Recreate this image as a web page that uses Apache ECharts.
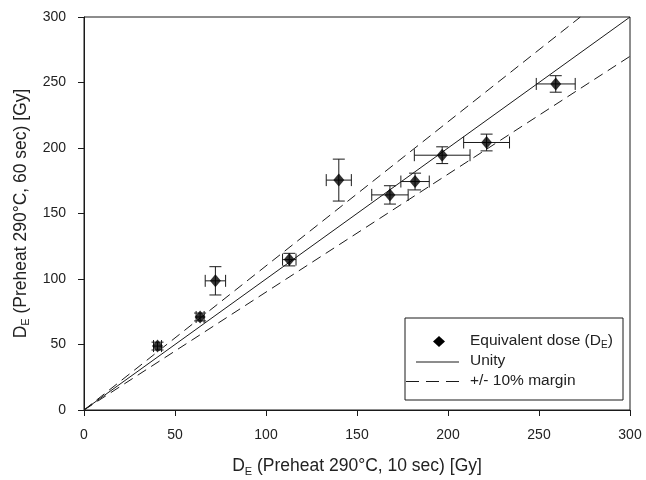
<!DOCTYPE html>
<html>
<head>
<meta charset="utf-8">
<script src="https://cdn.jsdelivr.net/npm/echarts@6/dist/echarts.min.js"></script>
<style>
  html, body { margin: 0; padding: 0; background: #fff; }
  #chart { width: 646px; height: 480px; }
</style>
</head>
<body>
<div id="chart"></div>
<script>
// measured values (Gy)
const doseX = [40.4, 63.8, 72.2, 112.8, 140.0, 168.1, 181.9, 196.8, 221.2, 259.2];
const doseY = [48.8, 71.0, 98.6, 114.8, 175.5, 164.2, 174.4, 194.5, 204.2, 248.9];
const errX = [2.2, 2.2, 5.6, 3.7, 6.9, 10.0, 7.8, 15.3, 12.6, 10.7];
const errY = [3.0, 3.0, 10.8, 4.8, 16.0, 7.0, 6.4, 6.4, 6.4, 6.3];

// reference lines
const unityLine = [[0, 0], [300, 300]];
const upperLine = [[0, 0], [272.73, 300]];
const lowerLine = [[0, 0], [300, 270]];

const chart = echarts.init(document.getElementById('chart'));

const points = doseX.map((x, i) => [x, doseY[i]]);
const errRows = doseX.map((x, i) => [x, doseY[i], errX[i], errY[i]]);

const font = 'Liberation Sans, Arial, sans-serif';
const ink = '#1a1a1a';
const cap = 6;

// error bars drawn through the axis scales
function renderErr(params, api) {
  const x = api.value(0), y = api.value(1), ex = api.value(2), ey = api.value(3);
  const c = api.coord([x, y]);
  const l = api.coord([x - ex, y]);
  const r = api.coord([x + ex, y]);
  const t = api.coord([x, y + ey]);
  const b = api.coord([x, y - ey]);
  const st = { stroke: ink, lineWidth: 1 };
  const seg = (x1, y1, x2, y2) => ({ type: 'line', shape: { x1, y1, x2, y2 }, style: st });
  return {
    type: 'group',
    children: [
      seg(l[0], c[1], r[0], c[1]),
      seg(l[0], c[1] - cap, l[0], c[1] + cap),
      seg(r[0], c[1] - cap, r[0], c[1] + cap),
      seg(c[0], t[1], c[0], b[1]),
      seg(c[0] - cap, t[1], c[0] + cap, t[1]),
      seg(c[0] - cap, b[1], c[0] + cap, b[1])
    ]
  };
}

const axisCommon = {
  type: 'value',
  min: 0,
  max: 300,
  interval: 50,
  splitLine: { show: false },
  axisLine: { show: true, lineStyle: { color: ink, width: 1 } },
  axisTick: { show: true, inside: false, length: 6, lineStyle: { color: ink } },
  axisLabel: { color: '#222', fontSize: 14, fontFamily: font, margin: 18 },
  nameLocation: 'middle',
  nameTextStyle: {
    rich: {
      a: { fontSize: 17.5, fontFamily: font, color: '#222' },
      s: { fontSize: 11, fontFamily: font, color: '#222', padding: [10, 0, 0, 0] }
    }
  }
};

const legendRich = {
  a: { fontSize: 15.5, fontFamily: font, fill: '#222' },
  s: { fontSize: 10, fontFamily: font, fill: '#222', padding: [8, 0, 0, 0] }
};

chart.setOption({
  animation: false,
  grid: {
    left: 84, right: 16, top: 17, bottom: 70,
    containLabel: false, outerBoundsMode: 'none',
    show: true, borderColor: ink, borderWidth: 1
  },
  xAxis: Object.assign({}, axisCommon, {
    name: '{a|D}{s|E}{a| (Preheat 290°C, 10 sec) [Gy]}',
    nameGap: 46
  }),
  yAxis: Object.assign({}, axisCommon, {
    name: '{a|D}{s|E}{a| (Preheat 290°C, 60 sec) [Gy]}',
    nameGap: 47
  }),
  series: [
    {
      type: 'line', data: unityLine, symbol: 'none', silent: true,
      lineStyle: { color: ink, width: 1 }
    },
    {
      type: 'line', data: upperLine, symbol: 'none', silent: true,
      lineStyle: { color: ink, width: 1, type: [10, 6] }
    },
    {
      type: 'line', data: lowerLine, symbol: 'none', silent: true,
      lineStyle: { color: ink, width: 1, type: [10, 6] }
    },
    {
      type: 'custom', data: errRows, renderItem: renderErr,
      encode: { x: 0, y: 1 }, z: 3
    },
    {
      type: 'scatter', data: points, symbol: 'diamond', symbolSize: [11, 13],
      itemStyle: { color: '#000' }, z: 4
    }
  ],
  graphic: [
    {
      type: 'rect', shape: { x: 405, y: 318, width: 218, height: 82 },
      style: { fill: '#fff', stroke: ink, lineWidth: 1 }, z: 10
    },
    {
      type: 'polygon', z: 11,
      shape: { points: [[439, 336], [445, 341.5], [439, 347], [433, 341.5]] },
      style: { fill: '#000' }
    },
    {
      type: 'line', z: 11, shape: { x1: 416, y1: 362, x2: 459, y2: 362 },
      style: { stroke: ink, lineWidth: 1 }
    },
    {
      type: 'line', z: 11, shape: { x1: 406, y1: 381.5, x2: 459, y2: 381.5 },
      style: { stroke: ink, lineWidth: 1, lineDash: [13, 7] }
    },
    {
      type: 'text', z: 11,
      style: {
        x: 470, y: 341, verticalAlign: 'middle',
        text: '{a|Equivalent dose (D}{s|E}{a|)}',
        rich: legendRich
      }
    },
    {
      type: 'text', z: 11,
      style: { x: 470, y: 361, verticalAlign: 'middle', text: 'Unity', fontSize: 15.5, fontFamily: font, fill: '#222' }
    },
    {
      type: 'text', z: 11,
      style: { x: 470, y: 381, verticalAlign: 'middle', text: '+/- 10% margin', fontSize: 15.5, fontFamily: font, fill: '#222' }
    }
  ]
});
</script>
</body>
</html>
